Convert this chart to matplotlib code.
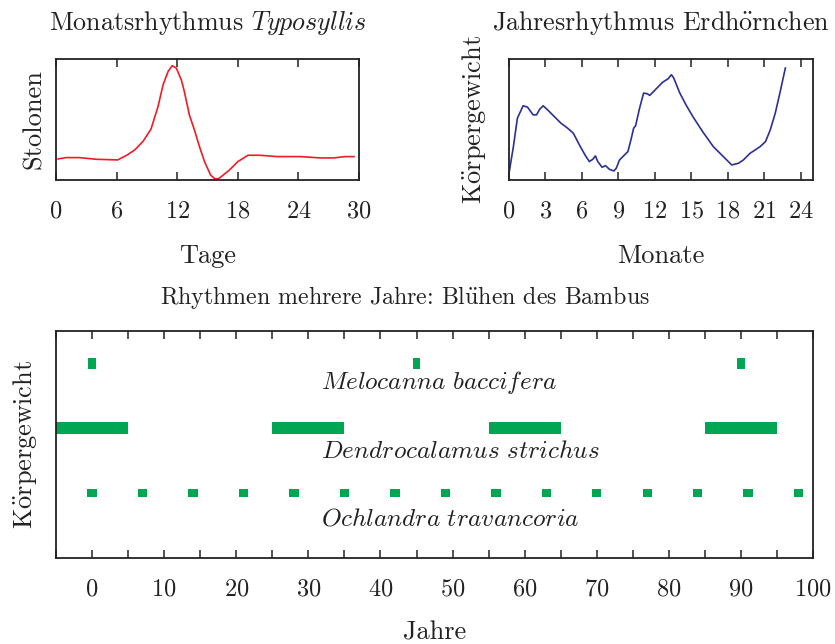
import matplotlib
matplotlib.use("Agg")
import matplotlib.pyplot as plt
from matplotlib.ticker import MultipleLocator

plt.rcParams['font.family'] = ['cmr10', 'DejaVu Serif']
plt.rcParams['mathtext.fontset'] = 'cm'
plt.rcParams['axes.formatter.use_mathtext'] = True

# Monatsrhythmus: Stolonenbildung über einen Mondmonat
tage = [0.2, 1.0, 2.3, 4.0, 6.1, 7.0, 7.8, 8.6, 9.4, 10.1, 10.6, 11.1, 11.5, 11.9,
        12.4, 12.7, 13.2, 13.7, 14.2, 14.7, 15.3, 15.7, 16.1, 17.1, 18.0, 19.0,
        20.2, 21.9, 24.2, 26.2, 27.5, 28.6, 29.5]
stolonen = [63, 67, 67, 62, 60, 74, 90, 115, 152, 220, 285, 325, 342, 335,
            300, 265, 195, 150, 100, 55, 15, 4, 4, 28, 55, 74,
            74, 70, 70, 66, 66, 70, 70]

# Jahresrhythmus: Körpergewicht des Erdhörnchens
monate = [0, 0.36, 0.69, 1.16, 1.52, 1.98, 2.26, 2.53, 2.81, 3.17, 3.58, 4.27,
          4.82, 5.29, 5.79, 6.25, 6.61, 6.89, 7.11, 7.30, 7.66, 7.93, 8.26, 8.62,
          8.82, 9.09, 9.42, 9.78, 10.06, 10.25, 10.41, 10.74, 11.07, 11.38, 11.57,
          11.98, 12.62, 13.09, 13.36, 13.55, 14.05, 14.60, 15.15, 15.92, 16.80,
          17.49, 18.32, 18.87, 19.28, 19.83, 20.25, 20.66, 21.10, 21.49, 21.90,
          22.31, 22.73]
gewicht = [20, 100, 185, 222, 218, 195, 195, 212, 222, 210, 195, 170,
           155, 140, 105, 75, 55, 62, 72, 55, 38, 43, 32, 27,
           35, 60, 72, 85, 125, 155, 162, 215, 260, 258, 253,
           268, 292, 303, 315, 305, 260, 222, 188, 145, 100,
           75, 45, 50, 60, 80, 90, 100, 115, 150, 200,
           265, 335]

# Blühjahre der Bambusarten
melocanna_jahre = [0, 45, 90]
dendro_start = [-5, 25, 55, 85]
dendro_dauer = [10, 10, 10, 10]
ochlandra_jahre = [0, 7, 14, 21, 28, 35, 42, 49, 56, 63, 70, 77, 84, 91, 98]

gruen = '#00a651'
dunkel = '#222222'
fs_tick = 17.5
fs_label = 19
fs_titel = 18.7

# Umlaute über mathtext, damit sie zur Computer-Modern-Schrift passen
oe = r'$\ddot{\mathrm{o}}$'
ue = r'$\ddot{\mathrm{u}}$'

fig = plt.figure(figsize=(8.35, 6.44), dpi=100)


def rahmen(ax):
    ax.tick_params(axis='x', which='both', direction='in', top=True, bottom=True,
                   length=6, width=1.1, labelsize=fs_tick, pad=15, colors=dunkel)
    ax.tick_params(axis='y', left=False, labelleft=False)
    for s in ax.spines.values():
        s.set_linewidth(1.3)
        s.set_color(dunkel)


# oben links
ax1 = fig.add_axes([0.0671, 0.7205, 0.3629, 0.1879])
ax1.plot(tage, stolonen, color='#ee1c25', lw=1.2)
ax1.set_xlim(0, 30)
ax1.set_ylim(0, 362)
ax1.set_xticks([0, 6, 12, 18, 24, 30])
rahmen(ax1)
ax1.set_xlabel('Tage', fontsize=fs_label, labelpad=15, color=dunkel)
ax1.set_ylabel('Stolonen', fontsize=fs_label, labelpad=7, color=dunkel)
ax1.set_title(r'Monatsrhythmus $\mathit{Typosyllis}$', fontsize=fs_titel, pad=21,
              color=dunkel)

# oben rechts
ax2 = fig.add_axes([0.6096, 0.7205, 0.364, 0.1879])
ax2.plot(monate, gewicht, color='#2b3192', lw=1.2)
ax2.set_xlim(0, 25)
ax2.set_ylim(0, 362)
ax2.set_xticks([0, 3, 6, 9, 12, 15, 18, 21, 24])
rahmen(ax2)
ax2.set_xlabel('Monate', fontsize=fs_label, labelpad=15, color=dunkel)
ax2.set_ylabel('K' + oe + 'rpergewicht', fontsize=fs_label, labelpad=15, color=dunkel)
ax2.set_title('Jahresrhythmus Erdh' + oe + 'rnchen', fontsize=fs_titel, pad=21,
              color=dunkel)

# unten
ax3 = fig.add_axes([0.0671, 0.1335, 0.9066, 0.3525])
ax3.bar(melocanna_jahre, [0.36] * len(melocanna_jahre), width=1.0, bottom=5.82,
        color=gruen)
ax3.bar(dendro_start, [0.36] * len(dendro_start), width=dendro_dauer, bottom=3.82,
        align='edge', color=gruen)
ax3.bar(ochlandra_jahre, [0.26] * len(ochlandra_jahre), width=1.3, bottom=1.87,
        color=gruen)
fs_art = 18.2
ax3.text(31.8, 5.42, r'$\mathit{Melocanna\ baccifera}$', fontsize=fs_art,
         va='center', color=dunkel)
ax3.text(31.8, 3.27, r'$\mathit{Dendrocalamus\ strichus}$', fontsize=fs_art,
         va='center', color=dunkel)
ax3.text(31.8, 1.20, r'$\mathit{Ochlandra\ travancoria}$', fontsize=fs_art,
         va='center', color=dunkel)
ax3.set_xlim(-5, 100)
ax3.set_ylim(0, 7)
ax3.set_xticks(range(0, 101, 10))
ax3.xaxis.set_minor_locator(MultipleLocator(5))
rahmen(ax3)
ax3.set_xlabel('Jahre', fontsize=fs_label, labelpad=14, color=dunkel)
ax3.set_ylabel('K' + oe + 'rpergewicht', fontsize=fs_label, labelpad=12, color=dunkel)
fig.text(0.485, 0.538, 'Rhythmen mehrere Jahre: Bl' + ue + 'hen des Bambus',
         fontsize=17.2, ha='center', va='center', color=dunkel)

fig.savefig('out.png', dpi=100)
